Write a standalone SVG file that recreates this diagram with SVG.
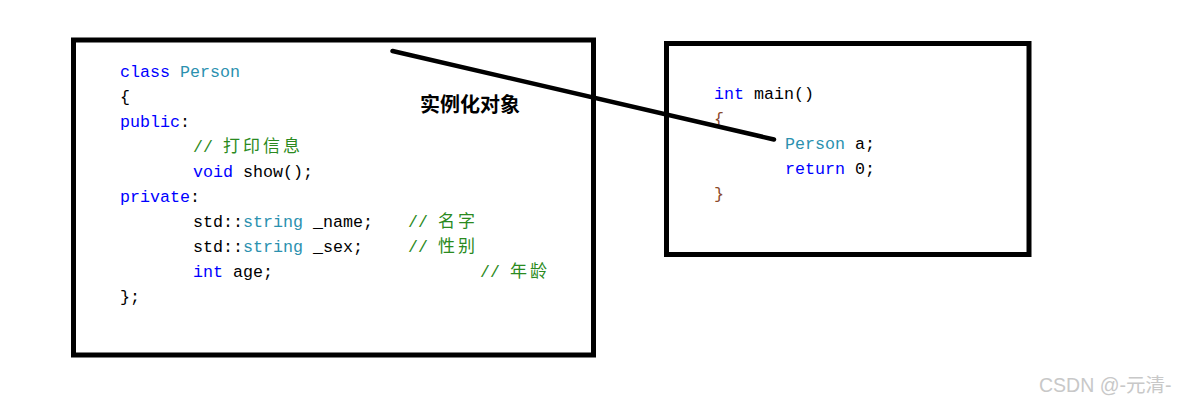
<svg xmlns="http://www.w3.org/2000/svg" width="1183" height="405" viewBox="0 0 1183 405">
<style>
.box{fill:#fff;stroke:#000;stroke-width:5}
.code{font-family:"Liberation Mono","Noto Sans CJK SC",monospace;font-size:16.67px;fill:#000}
.kw{fill:#0000ff}
.ty{fill:#2b91af}
.cm{fill:#2a8a20}
.cj{font-size:17px;letter-spacing:3px}
.br{fill:#8b4a2b}
.lbl{font-family:"Noto Sans CJK SC",sans-serif;font-weight:bold;font-size:20px;fill:#000}
.wm{font-family:"Liberation Sans","Noto Sans CJK SC",sans-serif;font-size:19.5px;fill:#c8c8c8}
.conn{stroke:#000;stroke-width:4.5;stroke-linecap:round;fill:none}
</style>
<rect width="1183" height="405" fill="#fff"/>
<g id="class-person">
<rect class="box" x="73.5" y="40" width="520" height="315"/>
<text class="code" x="120" y="77"><tspan class="kw">class</tspan> <tspan class="ty">Person</tspan></text>
<text class="code" x="120" y="102">{</text>
<text class="code" x="120" y="127"><tspan class="kw">public</tspan>:</text>
<text class="code cm" x="193" y="152">// <tspan class="cj">打印信息</tspan></text>
<text class="code" x="193" y="177"><tspan class="kw">void</tspan> show();</text>
<text class="code" x="120" y="202"><tspan class="kw">private</tspan>:</text>
<text class="code" x="193" y="227">std::<tspan class="ty">string</tspan> _name;</text>
<text class="code cm" x="408" y="227">// <tspan class="cj">名字</tspan></text>
<text class="code" x="193" y="252">std::<tspan class="ty">string</tspan> _sex;</text>
<text class="code cm" x="408" y="252">// <tspan class="cj">性别</tspan></text>
<text class="code" x="193" y="277"><tspan class="kw">int</tspan> age;</text>
<text class="code cm" x="480" y="277">// <tspan class="cj">年龄</tspan></text>
<text class="code" x="120" y="302">};</text>
</g>
<g id="main-func">
<rect class="box" x="666.5" y="43.5" width="362.5" height="211"/>
<text class="code" x="714" y="99"><tspan class="kw">int</tspan> main()</text>
<text class="code br" x="714" y="124">{</text>
<text class="code" x="785" y="149"><tspan class="ty">Person</tspan> a;</text>
<text class="code" x="785" y="174"><tspan class="kw">return</tspan> 0;</text>
<text class="code br" x="714" y="199">}</text>
</g>
<g id="connectors">
<line class="conn" x1="392.5" y1="51" x2="774" y2="139.5"/>
</g>
<g id="label">
<text class="lbl" x="420" y="112">实例化对象</text>
</g>
<g id="watermark">
<text class="wm" x="1039" y="392">CSDN @-元清-</text>
</g>
</svg>
